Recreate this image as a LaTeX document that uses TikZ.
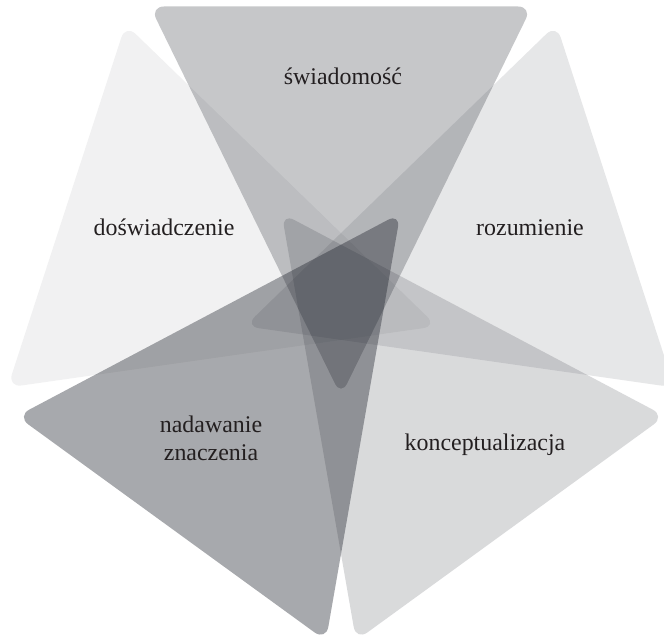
\documentclass[tikz,border=0pt]{standalone}
\usepackage{fontspec}
\setmainfont{Liberation Serif}
\usetikzlibrary{calc}
\definecolor{veil}{RGB}{20,24,34}
\definecolor{ink}{RGB}{35,31,32}

\begin{document}
\begin{tikzpicture}[x=0.025cm,y=0.025cm,
  petal/.style={fill=veil,rounded corners=10pt},
  word/.style={text=ink,font=\fontsize{17}{20}\selectfont,align=center}]
  \useasboundingbox (0,-636) rectangle (664,0);
  \coordinate (c) at (341,-295);
  % five triangles, tip pointing past the centre
  \foreach \a/\o in {-90/0.2425, -18/0.0596, 54/0.3745, 126/0.1617, 198/0.1064}{
    \fill[petal,fill opacity=\o] ($(c)+(\a:101)$) -- ($(c)+({\a+146.5}:346)$)
      -- ($(c)+({\a+213.5}:346)$) -- cycle;
  }
  \node[word,anchor=base] (swiad) at (343,-85) {świadomość};
  \node[word,anchor=base] (dosw) at (164,-236) {doświadczenie};
  \node[word,anchor=base] (rozum) at (530,-236) {rozumienie};
  \node[word] (nadaw) at (211,-438) {nadawanie\\znaczenia};
  \node[word,anchor=base] (konc) at (485,-450) {konceptualizacja};
\end{tikzpicture}
\end{document}
